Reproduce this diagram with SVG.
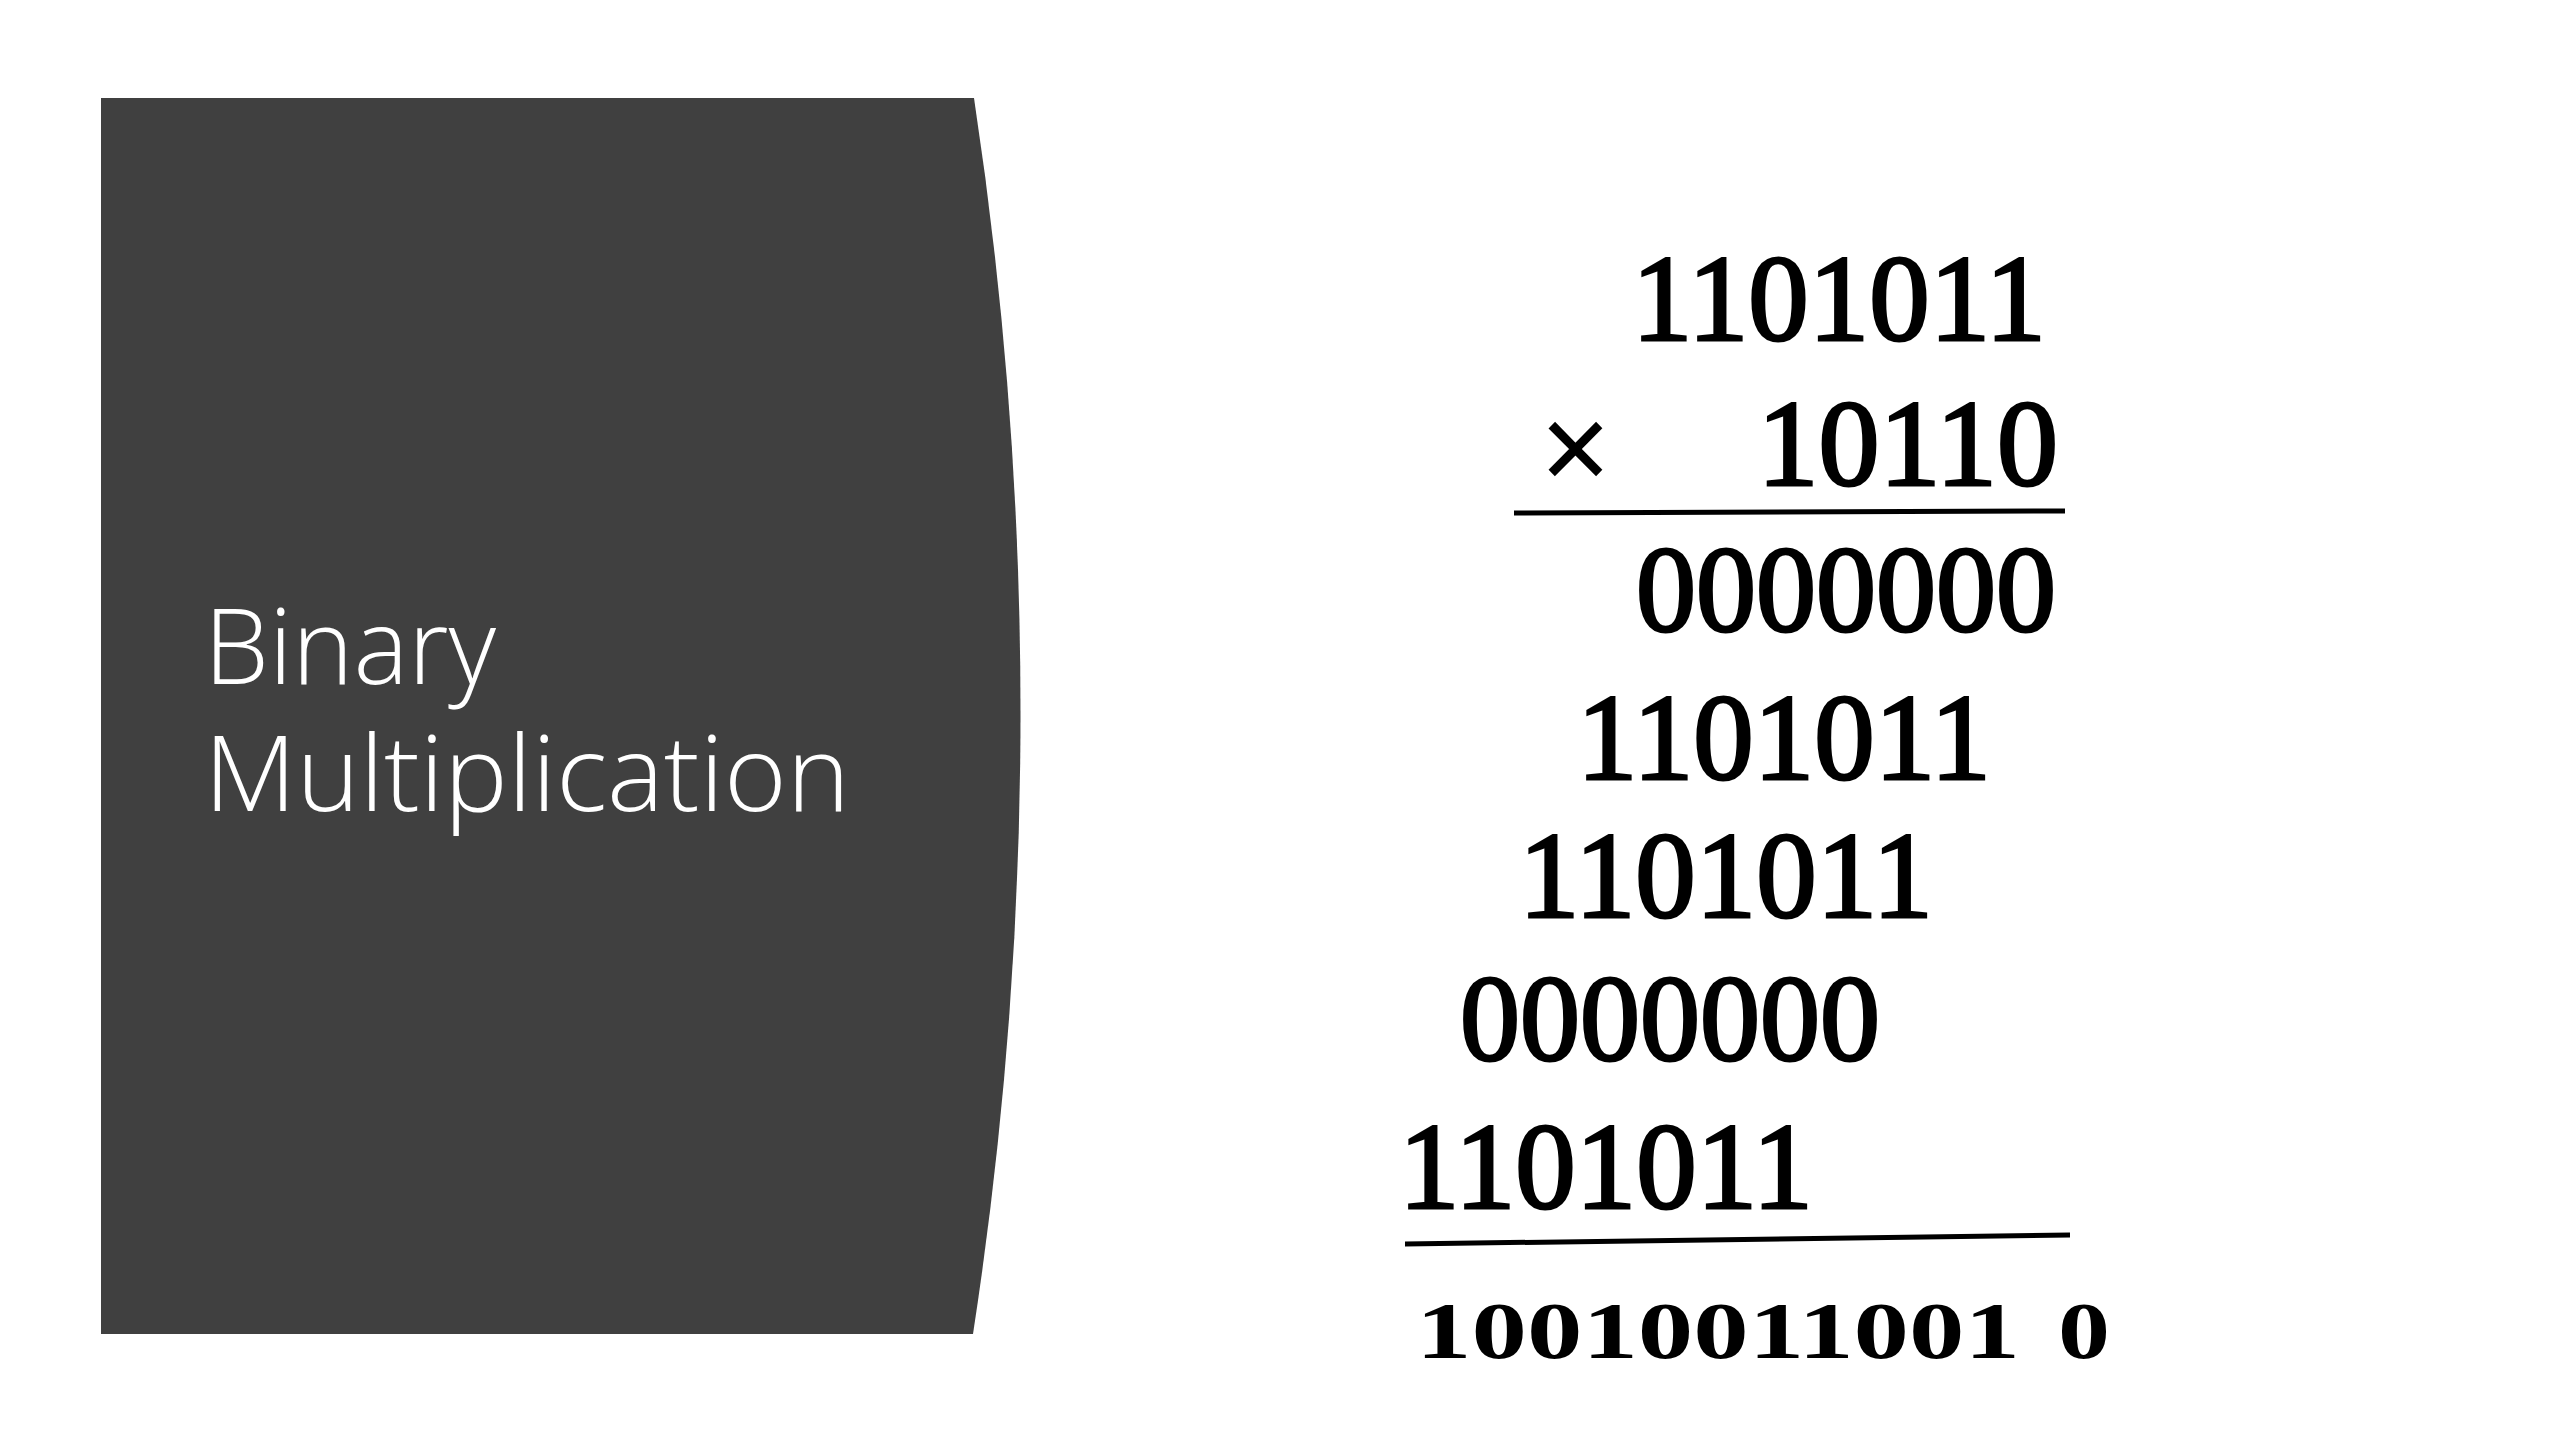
<svg xmlns="http://www.w3.org/2000/svg" width="2560" height="1440" viewBox="0 0 2560 1440">
  <style>
    .title { font-family: "Open Sans", "Noto Sans", "Liberation Sans", sans-serif; font-weight: 300; font-size: 105px; fill: #ffffff; }
    .dig { font-family: "Liberation Serif", "DejaVu Serif", serif; font-size: 122px; fill: #000000; stroke: #000000; stroke-width: 3px; }
    .res { font-family: "Liberation Serif", "DejaVu Serif", serif; font-weight: bold; font-size: 80px; fill: #000000; }
    .rule { stroke: #000000; stroke-width: 5; fill: none; stroke-linecap: butt; }
  </style>
  <rect x="0" y="0" width="2560" height="1440" fill="#ffffff"/>
  <g id="panel">
    <path d="M101,98 H974 A4087,4087 0 0 1 973,1334 H101 Z" fill="#404040"/>
  </g>
  <g id="title">
    <text class="title"><tspan x="204" y="684" textLength="292" lengthAdjust="spacingAndGlyphs">Binary</tspan><tspan x="204" y="811" textLength="646" lengthAdjust="spacingAndGlyphs">Multiplication</tspan></text>
  </g>
  <g id="multiplication">
    <text class="dig" x="1632" y="340" textLength="414" lengthAdjust="spacingAndGlyphs">1101011</text>
    <text class="dig" x="1541" y="490" font-family="Liberation Sans, sans-serif" stroke-width="0" font-size="112">×</text>
    <text class="dig" x="2058" y="485" text-anchor="end">10110</text>
    <text class="dig" x="1636" y="631" textLength="420" lengthAdjust="spacingAndGlyphs">0000000</text>
    <text class="dig" x="1577" y="779" textLength="414" lengthAdjust="spacingAndGlyphs">1101011</text>
    <text class="dig" x="1519" y="917" textLength="414" lengthAdjust="spacingAndGlyphs">1101011</text>
    <text class="dig" x="1460" y="1060" textLength="420" lengthAdjust="spacingAndGlyphs">0000000</text>
    <text class="dig" x="1399" y="1208" textLength="414" lengthAdjust="spacingAndGlyphs">1101011</text>
    <text class="res" x="1416" y="1358" textLength="604" lengthAdjust="spacingAndGlyphs">10010011001</text>
    <text class="res" x="2058" y="1358" textLength="52" lengthAdjust="spacingAndGlyphs">0</text>
  </g>
  <g id="connectors">
    <line class="rule" x1="1514" y1="513" x2="2065" y2="511" stroke-width="6"/>
    <line class="rule" x1="1405" y1="1244" x2="2070" y2="1235"/>
  </g>
</svg>
